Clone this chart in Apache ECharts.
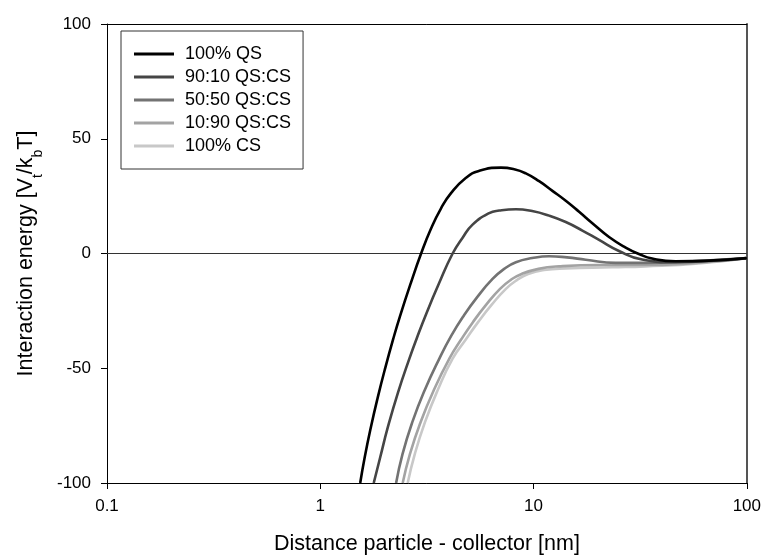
<!DOCTYPE html>
<html><head><meta charset="utf-8">
<script src="https://cdn.jsdelivr.net/npm/echarts@6/dist/echarts.min.js"></script>
<style>html,body{margin:0;padding:0;background:#fff}#c{width:764px;height:560px}</style>
</head><body><div id="c"></div>
<script>
const seriesNames = ['100% QS', '90:10 QS:CS', '50:50 QS:CS', '10:90 QS:CS', '100% CS'];
const seriesColors = ['#000000', '#454545', '#737373', '#a3a3a3', '#c8c8c8'];

const qsX = [1.539, 1.615, 1.725, 1.858, 2.019, 2.200, 2.362, 2.655, 2.970, 3.307, 3.684, 4.102, 4.823, 5.546, 7.03, 8.114, 9.204, 10.62, 12.26, 14.16, 16.35, 18.87, 22.59, 27.03, 31.2, 36.0, 46.3, 66.3, 100];
const qsY = [-100, -88.9, -75.9, -62.9, -49.7, -37.1, -27.5, -13.0, 0, 10.9, 19.7, 26.3, 33.0, 36.0, 37.4, 36.7, 34.9, 31.5, 27.3, 23.0, 18.2, 13.2, 7.2, 2.6, -0.2, -2.2, -3.4, -3.1, -2.0];

const m9010X = [1.781, 1.909, 2.071, 2.312, 2.617, 2.835, 3.148, 3.605, 4.174, 4.65, 5.177, 6.197, 6.902, 8.265, 9.85, 11.83, 14.16, 16.94, 20.28, 25.15, 32.3, 46.3, 66.3, 100];
const m9010Y = [-100, -88.9, -75.9, -60.7, -45.8, -36.9, -26.0, -13.0, 0, 6.9, 12.6, 17.6, 18.7, 19.3, 18.5, 16.5, 13.7, 10.0, 5.9, 1.1, -2.6, -3.8, -3.3, -2.0];

const m5050X = [2.268, 2.43, 2.701, 3.083, 3.617, 4.116, 4.714, 5.453, 6.424, 7.286, 8.265, 9.85, 11.83, 14.36, 17.57, 24.28, 33.54, 48.0, 100];
const m5050Y = [-100, -87.4, -73.5, -59.7, -45.8, -35.8, -27.0, -18.9, -11.1, -6.7, -3.8, -2.0, -1.2, -1.7, -2.7, -4.1, -4.1, -3.7, -2.0];

const m1090X = [2.435, 2.632, 2.954, 3.401, 4.029, 4.575, 5.206, 6.0, 6.963, 7.82, 8.79, 10.55, 13.18, 20.28, 33.54, 59.6, 100];
const m1090Y = [-100, -87.4, -73.5, -59.7, -45.8, -37.5, -29.8, -22.3, -15.4, -11.5, -8.9, -6.7, -5.6, -5.0, -5.0, -4.0, -2.0];

const csX = [2.57, 2.774, 3.097, 3.547, 4.174, 4.813, 5.506, 6.368, 7.42, 8.38, 9.43, 11.21, 14.16, 23.40, 33.54, 59.6, 100];
const csY = [-100, -87.4, -73.5, -59.7, -45.8, -37.5, -29.8, -22.3, -15.4, -11.5, -8.9, -7.2, -6.5, -6.0, -5.6, -4.3, -2.0];

const xTicks = [0.1, 1, 10, 100];
const yTicks = [-100, -50, 0, 50, 100];
const zeroLineX = [0.1, 100];
const zeroLineY = [0, 0];

const allX = [qsX, m9010X, m5050X, m1090X, csX];
const allY = [qsY, m9010Y, m5050Y, m1090Y, csY];
const pairs = (xs, ys) => xs.map((x, i) => [x, ys[i]]);

const FONT = 'Liberation Sans, Arial, sans-serif';
const chart = echarts.init(document.getElementById('c'), null, {renderer: 'canvas'});

const curveSeries = seriesNames.map((name, i) => ({
  name, type: 'line', data: pairs(allX[i], allY[i]),
  showSymbol: false, symbol: 'none', smooth: 0.5,
  lineStyle: {color: seriesColors[i], width: 2.6}, itemStyle: {color: seriesColors[i]},
  z: 10 - i, clip: true
}));

chart.setOption({
  backgroundColor: '#fff',
  animation: false,
  grid: {left: 107, right: 16, top: 24, bottom: 75, containLabel: false},
  legend: {
    data: seriesNames, orient: 'vertical', left: 121, top: 31,
    icon: 'rect', itemWidth: 40, itemHeight: 3, itemGap: 5,
    borderColor: '#333', borderWidth: 1, padding: [14, 12, 14, 13],
    backgroundColor: '#fff',
    textStyle: {fontFamily: FONT, fontSize: 18, color: '#000', padding: [0, 0, 0, 6]}
  },
  xAxis: [{
    type: 'log', logBase: 10, min: xTicks[0], max: xTicks[xTicks.length - 1],
    name: 'Distance particle - collector [nm]', nameLocation: 'middle', nameGap: 50,
    nameTextStyle: {fontFamily: FONT, fontSize: 21.5, color: '#000'},
    axisLine: {onZero: false, lineStyle: {color: '#000', width: 1}},
    axisTick: {show: true, inside: false, length: 6, lineStyle: {color: '#000'}},
    minorTick: {show: false}, splitLine: {show: false},
    axisLabel: {fontFamily: FONT, fontSize: 17, color: '#000', margin: 15,
      formatter: v => String(+Number(v).toPrecision(3))}
  }, {
    type: 'log', logBase: 10, min: xTicks[0], max: xTicks[xTicks.length - 1], position: 'top',
    axisLine: {onZero: false, lineStyle: {color: '#000', width: 1}},
    axisTick: {show: false}, axisLabel: {show: false}, splitLine: {show: false}
  }],
  yAxis: [{
    type: 'value', min: yTicks[0], max: yTicks[yTicks.length - 1], interval: 50,
    name: 'Interaction energy [V{s|t}/k{s|b}T]', nameLocation: 'middle', nameGap: 70, nameRotate: 90,
    nameTextStyle: {fontFamily: FONT, fontSize: 21.5, color: '#000',
      rich: {s: {fontFamily: FONT, fontSize: 14, color: '#000', verticalAlign: 'bottom', padding: [0, 0, -8, 0]}}},
    axisLine: {show: true, onZero: false, lineStyle: {color: '#000', width: 1}},
    axisTick: {show: true, inside: false, length: 6, lineStyle: {color: '#000'}},
    splitLine: {show: false},
    axisLabel: {fontFamily: FONT, fontSize: 17, color: '#000', margin: 16}
  }, {
    type: 'value', min: yTicks[0], max: yTicks[yTicks.length - 1], interval: 50, position: 'right',
    axisLine: {show: true, onZero: false, lineStyle: {color: '#555', width: 2}},
    axisTick: {show: false}, axisLabel: {show: false}, splitLine: {show: false}
  }],
  series: [{
    name: 'zero', type: 'line', data: pairs(zeroLineX, zeroLineY), showSymbol: false, symbol: 'none',
    lineStyle: {color: '#333', width: 1}, z: 1, silent: true
  }].concat(curveSeries)
});
</script></body></html>
